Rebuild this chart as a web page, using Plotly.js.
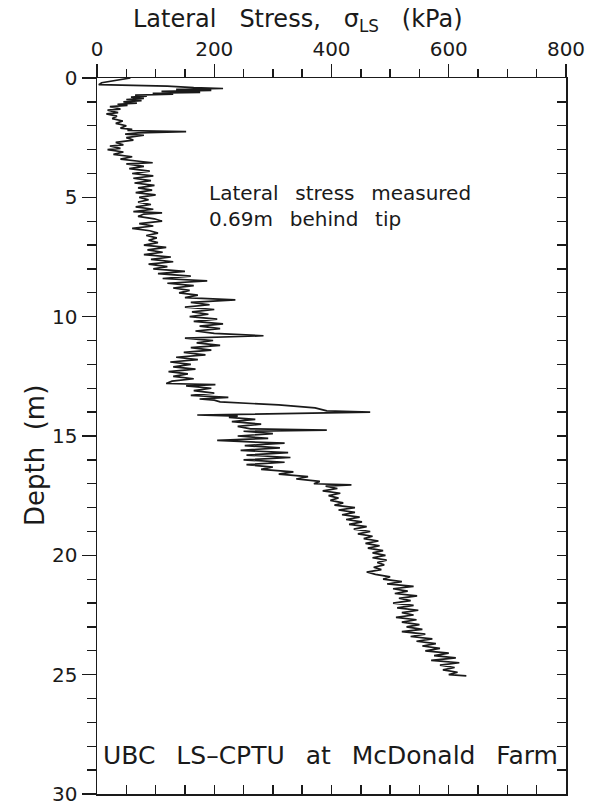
<!DOCTYPE html>
<html>
<head>
<meta charset="utf-8">
<script src="https://cdn.plot.ly/plotly-3.0.1.min.js"></script>
<style>
  html, body { margin: 0; padding: 0; background: #fff; }
  #chart { width: 599px; height: 808px; }
</style>
</head>
<body>
<div id="chart"></div>
<script>
// LS-CPTU sounding: depth below ground (m) and lateral stress (kPa)
const depth = [
  0.00, 0.10, 0.20, 0.28, 0.34, 0.40, 0.44, 0.48, 0.52, 0.56, 0.60, 0.64, 0.68, 0.72, 0.76, 0.80,
  0.85, 0.90, 0.95, 1.00, 1.05, 1.10, 1.15, 1.20, 1.30, 1.35, 1.45, 1.50, 1.60, 1.70, 1.80, 1.90,
  2.00, 2.10, 2.15, 2.20, 2.25, 2.30, 2.35, 2.40, 2.50, 2.60, 2.70, 2.80, 2.85, 2.95, 3.00, 3.10,
  3.20, 3.30, 3.40, 3.50, 3.55, 3.60, 3.70, 3.80, 3.90, 4.00, 4.10, 4.20, 4.30, 4.40, 4.50, 4.60,
  4.70, 4.80, 4.90, 5.00, 5.10, 5.20, 5.30, 5.40, 5.50, 5.60, 5.65, 5.70, 5.80, 5.90, 6.00, 6.10,
  6.20, 6.30, 6.40, 6.50, 6.60, 6.70, 6.80, 6.90, 7.00, 7.10, 7.20, 7.30, 7.40, 7.50, 7.60, 7.70,
  7.80, 7.90, 8.00, 8.10, 8.20, 8.30, 8.40, 8.50, 8.60, 8.70, 8.80, 8.90, 9.00, 9.10, 9.20, 9.30,
  9.40, 9.50, 9.60, 9.70, 9.80, 9.90, 10.00, 10.10, 10.20, 10.30, 10.40, 10.50, 10.60, 10.70, 10.80, 10.90,
  11.00, 11.10, 11.20, 11.30, 11.40, 11.50, 11.60, 11.70, 11.80, 11.90, 12.00, 12.10, 12.20, 12.30, 12.40, 12.50,
  12.60, 12.70, 12.80, 12.85, 12.90, 13.00, 13.10, 13.20, 13.30, 13.38, 13.45, 13.50, 13.57, 13.70, 13.82, 13.95,
  14.00, 14.12, 14.17, 14.22, 14.30, 14.40, 14.50, 14.60, 14.70, 14.75, 14.80, 14.90, 15.00, 15.10, 15.18, 15.25,
  15.30, 15.40, 15.50, 15.60, 15.70, 15.80, 15.90, 16.00, 16.10, 16.20, 16.30, 16.40, 16.50, 16.60, 16.70, 16.80,
  16.90, 17.00, 17.05, 17.10, 17.20, 17.30, 17.40, 17.50, 17.60, 17.70, 17.80, 17.90, 18.00, 18.10, 18.20, 18.30,
  18.40, 18.50, 18.60, 18.70, 18.80, 18.90, 19.00, 19.10, 19.20, 19.30, 19.40, 19.50, 19.60, 19.70, 19.80, 19.90,
  20.00, 20.10, 20.20, 20.30, 20.40, 20.50, 20.60, 20.70, 20.80, 20.90, 21.00, 21.10, 21.20, 21.30, 21.40, 21.50,
  21.60, 21.70, 21.80, 21.90, 22.00, 22.10, 22.20, 22.30, 22.40, 22.50, 22.60, 22.70, 22.80, 22.90, 23.00, 23.10,
  23.20, 23.30, 23.40, 23.50, 23.60, 23.70, 23.80, 23.90, 24.00, 24.10, 24.20, 24.30, 24.40, 24.50, 24.60, 24.70,
  24.80, 24.90, 25.00, 25.05
];
const lateralStress = [
  57, 28, 8, 3, 120, 165, 215, 135, 195, 110, 176, 95, 130, 65, 85, 58,
  80, 50, 76, 45, 68, 35, 52, 22, 40, 18, 36, 16, 34, 26, 44, 32,
  50, 40, 60, 52, 152, 70, 48, 80, 50, 62, 32, 45, 22, 40, 18, 45,
  28, 60, 40, 75, 95, 50, 80, 55, 90, 60, 96, 62, 92, 64, 98, 70,
  94, 66, 100, 72, 88, 70, 92, 66, 96, 62, 111, 80, 70, 98, 111, 72,
  96, 60, 90, 104, 84, 102, 88, 104, 80, 118, 86, 112, 80, 126, 92, 130,
  88, 120, 96, 150, 104, 160, 112, 188, 120, 165, 130, 158, 140, 172, 150, 236,
  160, 192, 150, 200, 162, 190, 158, 205, 165, 215, 175, 210, 168, 200, 284, 150,
  198, 170, 210, 160, 195, 148, 185, 135, 172, 125, 160, 130, 168, 122, 155, 130,
  165, 128, 118, 202, 152, 195, 165, 200, 160, 224, 175, 200, 210, 310, 372, 392,
  466, 171, 240, 225, 270, 230, 280, 240, 262, 392, 250, 300, 240, 292, 205, 262,
  320, 252, 312, 245, 326, 255, 330, 250, 320, 255, 300, 280, 335, 310, 360, 340,
  380, 370, 434, 390, 410, 385, 415, 395, 412, 398, 420, 405, 440, 412, 440, 418,
  448, 425, 452, 430, 460, 438, 466, 445, 470, 455, 480, 458, 482, 462, 488, 470,
  492, 470, 494, 478, 490, 472, 485, 460, 475, 500, 488, 520, 495, 540, 505, 530,
  508, 546, 515, 535, 505, 540, 512, 548, 520, 540, 510, 545, 520, 550, 528, 555,
  520, 560, 535, 572, 545, 578, 555, 585, 560, 600, 575, 612, 570, 618, 585, 610,
  590, 615, 600, 630
];

// Axis ticks
const stressTicks = [0, 200, 400, 600, 800];
const depthTicks = [0, 5, 10, 15, 20, 25, 30];

const ink = '#1a1a1a';
const font = 'DejaVu Sans, Verdana, sans-serif';
const sp3 = '\u00a0\u00a0\u00a0';
const sp2 = '\u00a0\u00a0';
const spT = '\u00a0\u00a0\u2009';

const traces = [
  {
    x: lateralStress,
    y: depth,
    type: 'scatter',
    mode: 'lines',
    line: { color: ink, width: 1.7 },
    hoverinfo: 'skip'
  },
  {
    // carries the mirrored bottom / right frame axes
    x: [], y: [], xaxis: 'x2', yaxis: 'y2', type: 'scatter', mode: 'lines', showlegend: false
  }
];

const frameAxis = {
  ticks: 'inside',
  ticklen: 9,
  tickwidth: 1.4,
  tickcolor: ink,
  showticklabels: false,
  showline: true,
  linecolor: ink,
  linewidth: 1.5,
  showgrid: false,
  zeroline: false
};

const layout = {
  width: 599,
  height: 808,
  paper_bgcolor: '#ffffff',
  plot_bgcolor: '#ffffff',
  showlegend: false,
  margin: { l: 97, r: 33, t: 78, b: 14 },
  font: { family: font, color: ink },
  xaxis: {
    side: 'top',
    range: [0, 800],
    tickvals: stressTicks,
    ticktext: stressTicks.map(String),
    ticks: 'outside',
    ticklen: 13,
    tickwidth: 1.4,
    tickcolor: ink,
    minor: { dtick: 50, tick0: 0, ticks: 'outside', ticklen: 8, tickwidth: 1.4, tickcolor: ink },
    showline: true,
    linecolor: ink,
    linewidth: 1.5,
    showgrid: false,
    zeroline: false,
    tickfont: { size: 20, family: font, color: ink }
  },
  xaxis2: Object.assign({
    overlaying: 'x', matches: 'x', side: 'bottom', anchor: 'y',
    range: [0, 800], dtick: 50, tick0: 0
  }, frameAxis),
  yaxis: {
    range: [30, 0],
    tickvals: depthTicks,
    ticktext: depthTicks.map(String),
    ticks: 'outside',
    ticklen: 14,
    tickwidth: 1.4,
    tickcolor: ink,
    minor: { dtick: 1, tick0: 0, ticks: 'outside', ticklen: 9, tickwidth: 1.4, tickcolor: ink },
    showline: true,
    linecolor: ink,
    linewidth: 1.5,
    showgrid: false,
    zeroline: false,
    tickfont: { size: 20, family: font, color: ink }
  },
  yaxis2: Object.assign({
    overlaying: 'y', matches: 'y', side: 'right', anchor: 'x',
    range: [30, 0], dtick: 1, tick0: 0
  }, frameAxis),
  annotations: [
    {
      // horizontal axis title
      x: 131, y: 21, xref: 'paper', yref: 'paper',
      xanchor: 'left', yanchor: 'middle', showarrow: false,
      text: 'Lateral' + sp3 + 'Stress,' + sp3 + 'σ<sub>LS</sub>' + sp3 + '(kPa)',
      font: { size: 24, family: font, color: ink }
    },
    {
      // vertical axis title
      x: 35, y: 456, xref: 'paper', yref: 'paper',
      xanchor: 'center', yanchor: 'middle', showarrow: false, textangle: -90,
      text: 'Depth' + sp2 + '(m)',
      font: { size: 26, family: font, color: ink }
    },
    {
      x: 188, y: 5.35, xref: 'x', yref: 'y',
      xanchor: 'left', yanchor: 'middle', align: 'left', showarrow: false,
      text: 'Lateral' + spT + 'stress' + spT + 'measured<br>0.69m' + spT + 'behind' + spT + 'tip',
      font: { size: 20, family: font, color: ink }
    },
    {
      x: 6, y: 28.4, xref: 'x', yref: 'y',
      xanchor: 'left', yanchor: 'middle', align: 'left', showarrow: false,
      text: 'UBC' + spT + 'LS–CPTU' + spT + 'at' + spT + 'McDonald' + spT + 'Farm',
      font: { size: 25, family: font, color: ink }
    }
  ]
};

// Paper-pixel positions for the two axis titles
function px2paperX(px) { return (px - layout.margin.l) / (layout.width - layout.margin.l - layout.margin.r); }
function px2paperY(py) { return 1 - (py - layout.margin.t) / (layout.height - layout.margin.t - layout.margin.b); }
layout.annotations[0].x = px2paperX(layout.annotations[0].x);
layout.annotations[0].y = px2paperY(layout.annotations[0].y);
layout.annotations[1].x = px2paperX(layout.annotations[1].x);
layout.annotations[1].y = px2paperY(layout.annotations[1].y);

Plotly.newPlot('chart', traces, layout, { staticPlot: true, displayModeBar: false });
</script>
</body>
</html>
